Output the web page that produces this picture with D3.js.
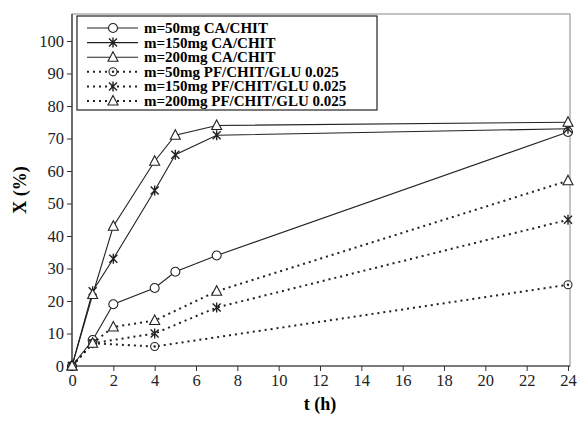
<!DOCTYPE html>
<html>
<head>
<meta charset="utf-8">
<script src="https://cdn.jsdelivr.net/npm/d3@7"></script>
<style>
  body { margin: 0; background: #fff; }
  svg text { font-family: "Liberation Serif", "Times New Roman", Times, Tinos, "Noto Serif", "DejaVu Serif", FreeSerif, serif !important; }
</style>
</head>
<body>
<div id="chart"></div>
<script>
// values
const seriesNames = [
  "m=50mg CA/CHIT",
  "m=150mg CA/CHIT",
  "m=200mg CA/CHIT",
  "m=50mg PF/CHIT/GLU 0.025",
  "m=150mg PF/CHIT/GLU 0.025",
  "m=200mg PF/CHIT/GLU 0.025"
];
const tCA = [0, 1, 2, 4, 5, 7, 24];
const ca50 = [0, 8, 19, 24, 29, 34, 72];
const ca150 = [0, 23, 33, 54, 65, 71, 73];
const ca200 = [0, 22, 43, 63, 71, 74, 75];
const tPF50 = [0, 1, 4, 24];
const pf50 = [0, 7, 6, 25];
const tPF150 = [0, 1, 4, 7, 24];
const pf150 = [0, 7, 10, 18, 45];
const tPF200 = [0, 1, 2, 4, 7, 24];
const pf200 = [0, 7, 12, 14, 23, 57];
const xTicks = d3.range(0, 25, 2);
const yTicks = d3.range(0, 101, 10);

const series = [
  { name: seriesNames[0], t: tCA, v: ca50, sym: "circle", dashed: false },
  { name: seriesNames[1], t: tCA, v: ca150, sym: "star", dashed: false },
  { name: seriesNames[2], t: tCA, v: ca200, sym: "triangle", dashed: false },
  { name: seriesNames[3], t: tPF50, v: pf50, sym: "dotcircle", dashed: true },
  { name: seriesNames[4], t: tPF150, v: pf150, sym: "star", dashed: true },
  { name: seriesNames[5], t: tPF200, v: pf200, sym: "triangle", dashed: true }
];

const width = 578, height = 423;
const margin = { left: 72, right: 8, top: 14, bottom: 57 };
const serif = "Liberation Serif, Times New Roman, Times, Tinos, Noto Serif, DejaVu Serif, serif";

const svg = d3.select("#chart").append("svg")
  .attr("width", width)
  .attr("height", height)
  .attr("font-family", serif);

const x = d3.scaleLinear().domain([0, 24]).range([margin.left, 568]);
const y = d3.scaleLinear().domain([0, 100]).range([height - margin.bottom, 41]);

// grey plot frame
svg.append("rect")
  .attr("x", margin.left)
  .attr("y", margin.top)
  .attr("width", width - margin.right - margin.left)
  .attr("height", height - margin.bottom - margin.top)
  .attr("fill", "none")
  .attr("stroke", "#888")
  .attr("stroke-width", 1);

const xAxis = svg.append("g")
  .attr("transform", `translate(0,${height - margin.bottom})`)
  .call(d3.axisBottom(x).tickValues(xTicks).tickSize(5).tickSizeOuter(0));
const yAxis = svg.append("g")
  .attr("transform", `translate(${margin.left},0)`)
  .call(d3.axisLeft(y).tickValues(yTicks).tickSize(5).tickSizeOuter(0));

[xAxis, yAxis].forEach(g => {
  g.attr("font-family", serif);
  g.select(".domain").attr("stroke", "#333").attr("stroke-width", 1.2);
  g.selectAll(".tick line").attr("stroke", "#333");
  g.selectAll(".tick text")
    .attr("font-size", 16.5)
    .attr("fill", "#222");
});
yAxis.select(".domain").attr("d", `M0,${height - margin.bottom}V${margin.top}`);
xAxis.select(".domain").attr("d", `M${margin.left},0H${width - margin.right}`);

svg.append("text")
  .attr("x", 320).attr("y", 410)
  .attr("text-anchor", "middle")
  .attr("font-size", 18).attr("font-weight", "bold")
  .text("t (h)");
svg.append("text")
  .attr("transform", `translate(26,${(margin.top + height - margin.bottom) / 2}) rotate(-90)`)
  .attr("text-anchor", "middle")
  .attr("font-size", 18).attr("font-weight", "bold")
  .text("X (%)");

const line = d3.line().x(d => x(d[0])).y(d => y(d[1]));

function drawSymbol(g, sym, cx, cy) {
  const m = g.append("g").attr("transform", `translate(${cx},${cy})`)
    .attr("stroke", "#222").attr("stroke-width", 1.1).attr("fill", "#fff");
  if (sym === "circle") {
    m.append("circle").attr("r", 4.5);
  } else if (sym === "dotcircle") {
    m.append("circle").attr("r", 4);
    m.append("circle").attr("r", 1.2).attr("fill", "#222").attr("stroke", "none");
  } else if (sym === "triangle") {
    m.append("path").attr("d", "M0,-5.5L5,4L-5,4Z");
  } else if (sym === "star") {
    m.append("path").attr("fill", "none").attr("stroke-width", 1.4)
      .attr("d", "M-4,-4L4,4M-4,4L4,-4M0,-5V5");
  }
}

const plot = svg.append("g");
series.forEach(s => {
  const pts = s.t.map((t, i) => [t, s.v[i]]);
  plot.append("path")
    .attr("d", line(pts))
    .attr("fill", "none")
    .attr("stroke", "#222")
    .attr("stroke-width", s.dashed ? 2 : 1.1)
    .attr("stroke-dasharray", s.dashed ? "2,4" : null);
  pts.forEach(p => drawSymbol(plot, s.sym, x(p[0]), y(p[1])));
});

// legend
const legend = svg.append("g");
legend.append("rect")
  .attr("x", 77).attr("y", 16).attr("width", 300).attr("height", 94)
  .attr("fill", "#fff").attr("stroke", "#222").attr("stroke-width", 1.2);
series.forEach((s, i) => {
  const ly = 28 + i * 14.6;
  legend.append("line")
    .attr("x1", 87).attr("x2", 138).attr("y1", ly).attr("y2", ly)
    .attr("stroke", "#222")
    .attr("stroke-width", s.dashed ? 2 : 1.1)
    .attr("stroke-dasharray", s.dashed ? "2,4" : null);
  drawSymbol(legend, s.sym, 113, ly);
  legend.append("text")
    .attr("x", 144).attr("y", ly + 5)
    .attr("font-size", 15).attr("font-weight", "bold")
    .text(s.name);
});
</script>
</body>
</html>
